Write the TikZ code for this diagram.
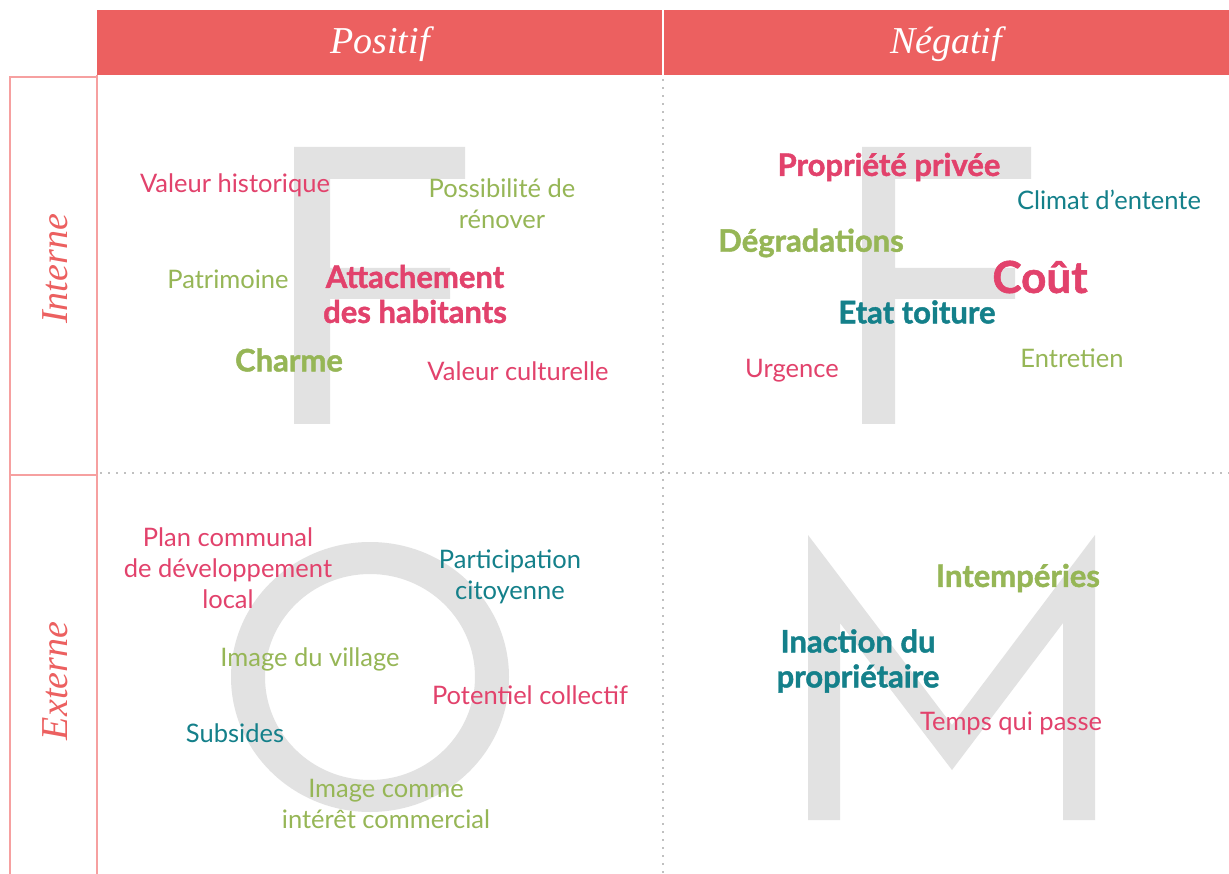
\documentclass[tikz,border=0pt]{standalone}
\usepackage{fontspec}
\newfontfamily\bodyfont{Lato}[BoldFeatures={FakeBold=1.4}]
\newfontfamily\titlefont{Liberation Serif}

\definecolor{headred}{RGB}{236,96,96}
\definecolor{edgered}{RGB}{246,160,160}
\definecolor{rosy}{RGB}{226,66,108}
\definecolor{leaf}{RGB}{150,182,86}
\definecolor{lagoon}{RGB}{20,128,138}
\definecolor{ghost}{RGB}{226,226,226}
\definecolor{dotgrey}{RGB}{128,128,128}

\tikzset{
  word/.style={font=\bodyfont\fontsize{25.5}{31}\selectfont, align=center, inner sep=0pt},
  boldword/.style={font=\bodyfont\bfseries\fontsize{31}{35}\selectfont, align=center, inner sep=0pt},
  header/.style={text=white, font=\titlefont\itshape\fontsize{38}{38}\selectfont, inner sep=0pt},
  sidelabel/.style={text=headred, font=\titlefont\itshape\fontsize{38}{38}\selectfont, rotate=90, inner sep=0pt},
  ghostletter/.style={fill=ghost, draw=none},
  dotline/.style={dotgrey, line width=1.7pt, dash pattern=on 0pt off 8pt, line cap=round},
  frame/.style={edgered, line width=1.5pt},
}

\begin{document}
\begin{tikzpicture}[x=1pt, y=-1pt]
  \useasboundingbox[fill=white] (0,0) rectangle (1229,874);

  % big grey letters behind the words
  \fill[ghostletter] (294,147) -- (465,147) -- (465,179) -- (330,179) -- (330,268)
    -- (450,268) -- (450,299) -- (330,299) -- (330,424) -- (294,424) -- cycle;
  \fill[ghostletter] (862,147) -- (1031,147) -- (1031,179) -- (895,179) -- (895,268)
    -- (1015,268) -- (1015,299) -- (895,299) -- (895,424) -- (862,424) -- cycle;
  \fill[ghostletter, even odd rule] (370,677) ellipse [x radius=139, y radius=135]
    (370,677) ellipse [x radius=105, y radius=103];
  \fill[ghostletter] (808,820) -- (808,535) -- (952,725) -- (1095,535) -- (1095,820)
    -- (1063,820) -- (1063,623) -- (952,770) -- (840,623) -- (840,820) -- cycle;

  % header band
  \fill[headred] (97,10) rectangle (1229,75);
  \draw[white, line width=1.5pt] (663,10) -- (663,75);
  \node[header] (hpos) at (380,44) {Positif};
  \node[header] (hneg) at (946,44) {Négatif};

  % left column
  \draw[frame] (97,75) -- (97,874);
  \draw[frame] (10,874) -- (10,77) -- (97,77);
  \draw[frame] (10,475) -- (97,475);
  \node[sidelabel] (lint) at (55,269) {Interne};
  \node[sidelabel] (lext) at (55,681) {Externe};

  % dotted quadrant lines
  \draw[dotline] (663,80) -- (663,874);
  \draw[dotline] (101,473) -- (1229,473);

  % Forces
  \node[word, rosy] (valhist) at (235,185) {Valeur historique};
  \node[word, leaf] (renov) at (502,204) {Possibilité de\\rénover};
  \node[word, leaf] (patri) at (228,279) {Patrimoine};
  \node[boldword, rosy] (attach) at (415,294) {Attachement\\des habitants};
  \node[boldword, leaf] (charme) at (289,360) {Charme};
  \node[word, rosy] (valcult) at (518,371) {Valeur culturelle};

  % Faiblesses
  \node[boldword, rosy] (propr) at (889,167) {Propriété privée};
  \node[word, lagoon] (climat) at (1109,200) {Climat d’entente};
  \node[boldword, leaf] (degrad) at (811,243) {Dégradations};
  \node[boldword, rosy, font=\bodyfont\bfseries\fontsize{44}{44}\selectfont] (cout) at (1040,277) {Coût};
  \node[boldword, lagoon] (etat) at (917,312) {Etat toiture};
  \node[word, rosy] (urgence) at (792,371) {Urgence};
  \node[word, leaf] (entretien) at (1072,358) {Entretien};

  % Opportunites
  \node[word, rosy] (pcdl) at (228,568) {Plan communal\\de développement\\local};
  \node[word, lagoon] (particip) at (510,577) {Participation\\citoyenne};
  \node[word, leaf] (imgvil) at (310,659) {Image du village};
  \node[word, rosy] (potcoll) at (530,695) {Potentiel collectif};
  \node[word, lagoon] (subsides) at (235,733) {Subsides};
  \node[word, leaf] (imgcomm) at (386,804) {Image comme\\intérêt commercial};

  % Menaces
  \node[boldword, leaf] (intemp) at (1018,578) {Intempéries};
  \node[boldword, lagoon] (inaction) at (858,661) {Inaction du\\propriétaire};
  \node[word, rosy] (temps) at (1011,723) {Temps qui passe};
\end{tikzpicture}
\end{document}
